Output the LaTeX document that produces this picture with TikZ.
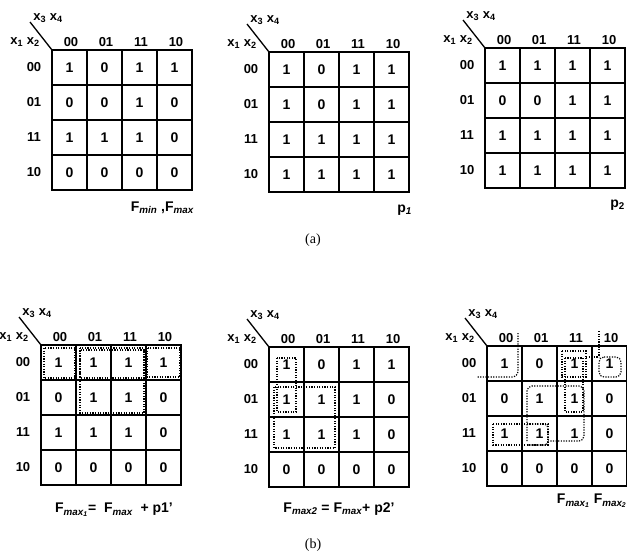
\documentclass[tikz,border=0pt]{standalone}
\usepackage{fontspec}
\setmainfont{Liberation Serif}
\setsansfont{Liberation Sans}
\usepackage{tikz}
\usetikzlibrary{positioning, calc}
\tikzset{
  gridline/.style={line width=1.5pt,line cap=rect},
  cellval/.style={font=\sffamily\bfseries\fontsize{14}{16}\selectfont,inner sep=0pt},
  hdr/.style={font=\sffamily\bfseries\fontsize{13}{15}\selectfont,inner sep=0pt},
  varlbl/.style={font=\sffamily\bfseries\fontsize{13}{15}\selectfont,inner sep=0pt},
  maplbl/.style={font=\sffamily\bfseries\fontsize{14}{16}\selectfont,inner sep=0pt},
  caplbl/.style={font=\rmfamily\fontsize{14}{16}\selectfont,inner sep=0pt},
  loop/.style={line width=1.2pt,dash pattern=on 1.2pt off 1.4pt}
}
% #1 name, #2 x, #3 y of top-left corner, #4 the 16 values row by row
\newcommand{\kmap}[4]{%
  \begin{scope}[shift={(#2,#3)}]
    \draw[gridline] (0,0) rectangle (140,140);
    \foreach \k in {1,2,3} {
      \draw[gridline] (35*\k,0) -- (35*\k,140);
      \draw[gridline] (0,35*\k) -- (140,35*\k);
    }
    \draw[line width=1.3pt] (0,0) -- (-22,-28);
    \node[varlbl] (#1-top) at (-4,-32) {x\textsubscript{3} x\textsubscript{4}};
    \node[varlbl] (#1-left) at (-27,-8) {x\textsubscript{1} x\textsubscript{2}};
    \foreach \l [count=\c from 0] in {00,01,11,10} {
      \node[hdr] (#1-col\c) at (35*\c+19,-8) {\l};
      \node[hdr] (#1-row\c) at (-18,35*\c+17.5) {\l};
    }
    \foreach \v [count=\i from 0] in {#4} {
      \pgfmathtruncatemacro\r{div(\i,4)}
      \pgfmathtruncatemacro\c{mod(\i,4)}
      \node[cellval] (#1-\r-\c) at (35*\c+17.5,35*\r+17.5) {\v};
    }
  \end{scope}}

\begin{document}
\begin{tikzpicture}[x=1pt,y=-1pt]
  \useasboundingbox (0,0) rectangle (627,552);

  %% (a) top row
  \kmap{fm}{52}{50}{1,0,1,1, 0,0,1,0, 1,1,1,0, 0,0,0,0}
  \kmap{pa}{269}{52}{1,0,1,1, 1,0,1,1, 1,1,1,1, 1,1,1,1}
  \kmap{pb}{485}{48}{1,1,1,1, 0,0,1,1, 1,1,1,1, 1,1,1,1}

  \node[maplbl,anchor=east] (fmlbl) at (194,208)
    {F\textsubscript{\itshape min} ,F\textsubscript{\itshape max}};
  \node[maplbl,anchor=east] (palbl) at (412,210) {p\textsubscript{\itshape 1}};
  \node[maplbl,anchor=east] (pblbl) at (625,205) {p\textsubscript{2}};
  \node[caplbl] (capa) at (313,240) {(a)};

  %% (b) bottom row
  \kmap{fa}{41}{345}{1,1,1,1, 0,1,1,0, 1,1,1,0, 0,0,0,0}
  \kmap{fb}{269}{347}{1,0,1,1, 1,1,1,0, 1,1,1,0, 0,0,0,0}
  \kmap{fc}{487}{346}{1,0,1,1, 0,1,1,0, 1,1,1,0, 0,0,0,0}

  \node[maplbl] (falbl) at (114,510)
    {F\textsubscript{\itshape max\textsubscript{1}}= \ F\textsubscript{\itshape max} \ + p1'};
  \node[maplbl] (fblbl) at (339,509)
    {F\textsubscript{\itshape max2} = F\textsubscript{\itshape max}+ p2'};
  \node[maplbl,anchor=east] (fclbl) at (627,501)
    {F\textsubscript{\itshape max\textsubscript{1}} F\textsubscript{\itshape max\textsubscript{2}}};
  \node[caplbl] (capb) at (313,545) {(b)};

  %% loops of Fmax1
  \draw[loop] (44,348) rectangle (75,378);
  \draw[loop] (147,348) rectangle (180,377);
  \draw[loop] (80,348) rectangle (144,378);
  \draw[loop] (80,350) rectangle (144,413);

  %% loops of Fmax2
  \draw[loop] (277,358) rectangle (296,412);
  \draw[loop] (274,387) rectangle (335,448);

  %% loops of both
  \draw[loop,rounded corners=6pt] (518,333) -- (518,377) -- (477,377);
  \draw[loop] (599,331) -- (599,357);
  \draw[loop,rounded corners=5pt] (599,357) -- (621,357) -- (621,377) -- (599,377) -- cycle;
  \draw[loop] (562,351) rectangle (586,377);
  \draw[loop] (586,357) -- (599,357);
  \draw[loop] (565,358) rectangle (583,412);
  \draw[loop,rounded corners=5pt] (527,441) -- (527,386) -- (584,386) -- (584,441) -- (548,441);
  \draw[loop] (493,424) rectangle (548,445);
  \draw[loop,rounded corners=4pt] (527,424) -- (548,424) -- (548,445) -- (527,445);
\end{tikzpicture}
\end{document}
